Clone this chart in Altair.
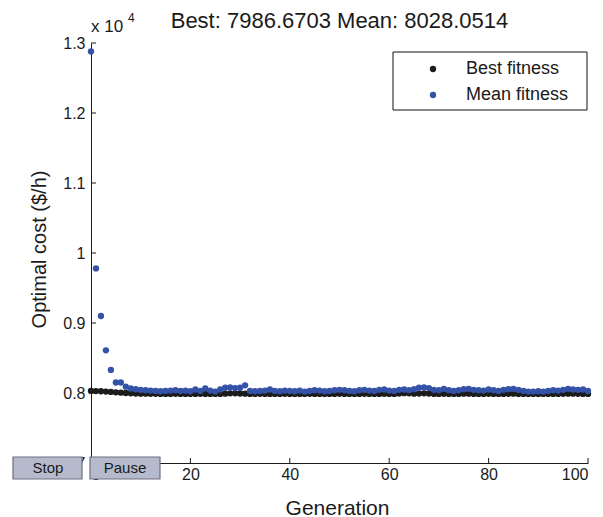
import altair as alt
import pandas as pd

# ---------------- data ----------------
generations = list(range(0, 101))

best_fitness = [
    8030, 8028, 8025, 8020, 8015, 8010, 8005, 8000, 7995, 7993,
    7990, 7990, 7989, 7988, 7987, 7987, 7987, 7988, 7987, 7987,
    7987, 7987, 7988, 7987, 7987, 7987, 7987, 7990, 7995, 7995,
    7993, 7990, 7987, 7987, 7988, 7987, 7987, 7987, 7987, 7988,
    7987, 7987, 7987, 7987, 7988, 7987, 7987, 7987, 7987, 7987,
    7988, 7987, 7987, 7987, 7987, 7988, 7987, 7987, 7987, 7988,
    7987, 7987, 7992, 7998, 7996, 7990, 7992, 7995, 7993, 7987,
    7987, 7988, 7987, 7987, 7987, 7991, 7990, 7987, 7987, 7987,
    7988, 7987, 7987, 7987, 7988, 7990, 7987, 7987, 7987, 7987,
    7987, 7987, 7987, 7987, 7987, 7988, 7991, 7990, 7988, 7987,
    7986.6703,
]

mean_fitness = [
    12880, 9780, 9100, 8610, 8330, 8150, 8150, 8090, 8065, 8055,
    8045, 8040, 8035, 8030, 8025, 8030, 8035, 8040, 8030, 8035,
    8025, 8050, 8030, 8065, 8035, 8020, 8050, 8075, 8080, 8070,
    8075, 8110, 8030, 8025, 8030, 8035, 8050, 8030, 8025, 8035,
    8030, 8025, 8035, 8020, 8030, 8040, 8035, 8025, 8030, 8040,
    8045, 8040, 8030, 8025, 8040, 8045, 8035, 8030, 8045, 8050,
    8035, 8030, 8045, 8050, 8040, 8055, 8075, 8080, 8070, 8045,
    8040, 8060, 8040, 8030, 8040, 8055, 8060, 8045, 8040, 8035,
    8050, 8040, 8030, 8045, 8055, 8060, 8045, 8030, 8020, 8020,
    8025, 8020, 8030, 8040, 8035, 8045, 8060, 8050, 8045, 8050,
    8028.0514,
]

series_names = ["Best fitness", "Mean fitness"]
series_colors = ["#1c1c1c", "#3453a7"]
y_ticks = [0.7, 0.8, 0.9, 1.0, 1.1, 1.2, 1.3]
x_ticks = [0, 20, 40, 60, 80, 100]
title_text = "Best: 7986.6703 Mean: 8028.0514"
button_labels = ["Stop", "Pause"]

# ---------------- table ----------------
rows = []
for g, v in zip(generations, best_fitness):
    rows.append({"Generation": g, "cost": v / 10000.0, "series": series_names[0]})
for g, v in zip(generations, mean_fitness):
    rows.append({"Generation": g, "cost": v / 10000.0, "series": series_names[1]})
df = pd.DataFrame(rows)
df_xt = pd.DataFrame({"t": x_ticks})
df_yt = pd.DataFrame({"t": y_ticks})
one = pd.DataFrame({"k": [0]})  # single row for decorations

W, H = 497, 420
FONT = "Liberation Sans"
INK = "#1a1a1a"

xscale = alt.Scale(domain=[0, 100], nice=False, zero=False)
yscale = alt.Scale(domain=[0.7, 1.3], nice=False, zero=False)

# legend frame (drawn first, behind everything)
legend_box = alt.Chart(one).mark_rect(fill="white", stroke="#111111", strokeWidth=1).encode(
    x=alt.value(302), x2=alt.value(496), y=alt.value(9), y2=alt.value(67))

points = alt.Chart(df).mark_circle(size=40, opacity=1).encode(
    x=alt.X("Generation:Q", scale=xscale,
            axis=alt.Axis(values=x_ticks, format="d", title="Generation",
                          titleX=246, titleY=51, titleBaseline="alphabetic",
                          titleAlign="center", titleFontSize=21,
                          labelPadding=3)),
    y=alt.Y("cost:Q", scale=yscale,
            axis=alt.Axis(values=y_ticks, format="~g", title="Optimal cost ($/h)",
                          titleX=-46, titleY=206, titleAngle=270,
                          titleBaseline="alphabetic", titleAlign="center",
                          titleFontSize=20, labelPadding=6)),
    color=alt.Color("series:N",
                    scale=alt.Scale(domain=series_names, range=series_colors),
                    legend=alt.Legend(title=None, orient="none", legendX=302, legendY=9,
                                      padding=8, rowPadding=8, symbolType="circle",
                                      symbolSize=40, symbolOffset=23, labelOffset=24,
                                      labelFontSize=18, labelFont=FONT, labelColor=INK)),
    order=alt.Order("series:N"),
)

xticks_in = alt.Chart(df_xt).mark_rule(color=INK, strokeWidth=1).encode(
    x=alt.X("t:Q", scale=xscale), y=alt.value(H), y2=alt.value(H - 5))
yticks_in = alt.Chart(df_yt).mark_rule(color=INK, strokeWidth=1).encode(
    y=alt.Y("t:Q", scale=yscale), x=alt.value(0), x2=alt.value(5))

title_mark = alt.Chart(one).mark_text(text=title_text, fontSize=22, font=FONT, color=INK,
                                      fontWeight="normal", align="center",
                                      baseline="alphabetic").encode(
    x=alt.value(W / 2), y=alt.value(-15))
exp_main = alt.Chart(one).mark_text(text="x 10", fontSize=17, font=FONT, color=INK,
                                    fontWeight="normal", align="left",
                                    baseline="alphabetic").encode(
    x=alt.value(0), y=alt.value(-11))
exp_sup = alt.Chart(one).mark_text(text="4", fontSize=12, font=FONT, color=INK,
                                   fontWeight="normal", align="left",
                                   baseline="alphabetic").encode(
    x=alt.value(37), y=alt.value(-21))

btn_stop = alt.Chart(one).mark_rect(fill="#b6bacd", stroke="#6d6f80", strokeWidth=1.2).encode(
    x=alt.value(-78), x2=alt.value(-9), y=alt.value(414), y2=alt.value(436))
btn_pause = alt.Chart(one).mark_rect(fill="#b6bacd", stroke="#6d6f80", strokeWidth=1.2).encode(
    x=alt.value(-1), x2=alt.value(69), y=alt.value(414), y2=alt.value(436))
txt_stop = alt.Chart(one).mark_text(text=button_labels[0], fontSize=15, font=FONT, color=INK,
                                    fontWeight="normal", align="center",
                                    baseline="middle").encode(
    x=alt.value(-43), y=alt.value(425))
txt_pause = alt.Chart(one).mark_text(text=button_labels[1], fontSize=15, font=FONT, color=INK,
                                     fontWeight="normal", align="center",
                                     baseline="middle").encode(
    x=alt.value(34), y=alt.value(425))

chart = alt.layer(
    legend_box, points, xticks_in, yticks_in, title_mark, exp_main, exp_sup,
    btn_stop, btn_pause, txt_stop, txt_pause,
).properties(
    width=W, height=H,
    autosize=alt.AutoSizeParams(type="none"),
    padding={"left": 83, "top": 35, "right": 7, "bottom": 54},
).configure_view(
    stroke=None
).configure_axis(
    grid=False, ticks=False, domainColor=INK, domainWidth=1,
    labelFont=FONT, labelFontSize=16, labelColor=INK,
    titleFont=FONT, titleColor=INK, titleFontWeight="normal",
)

chart.save("out.html", embed_options={"renderer": "svg", "actions": False})
